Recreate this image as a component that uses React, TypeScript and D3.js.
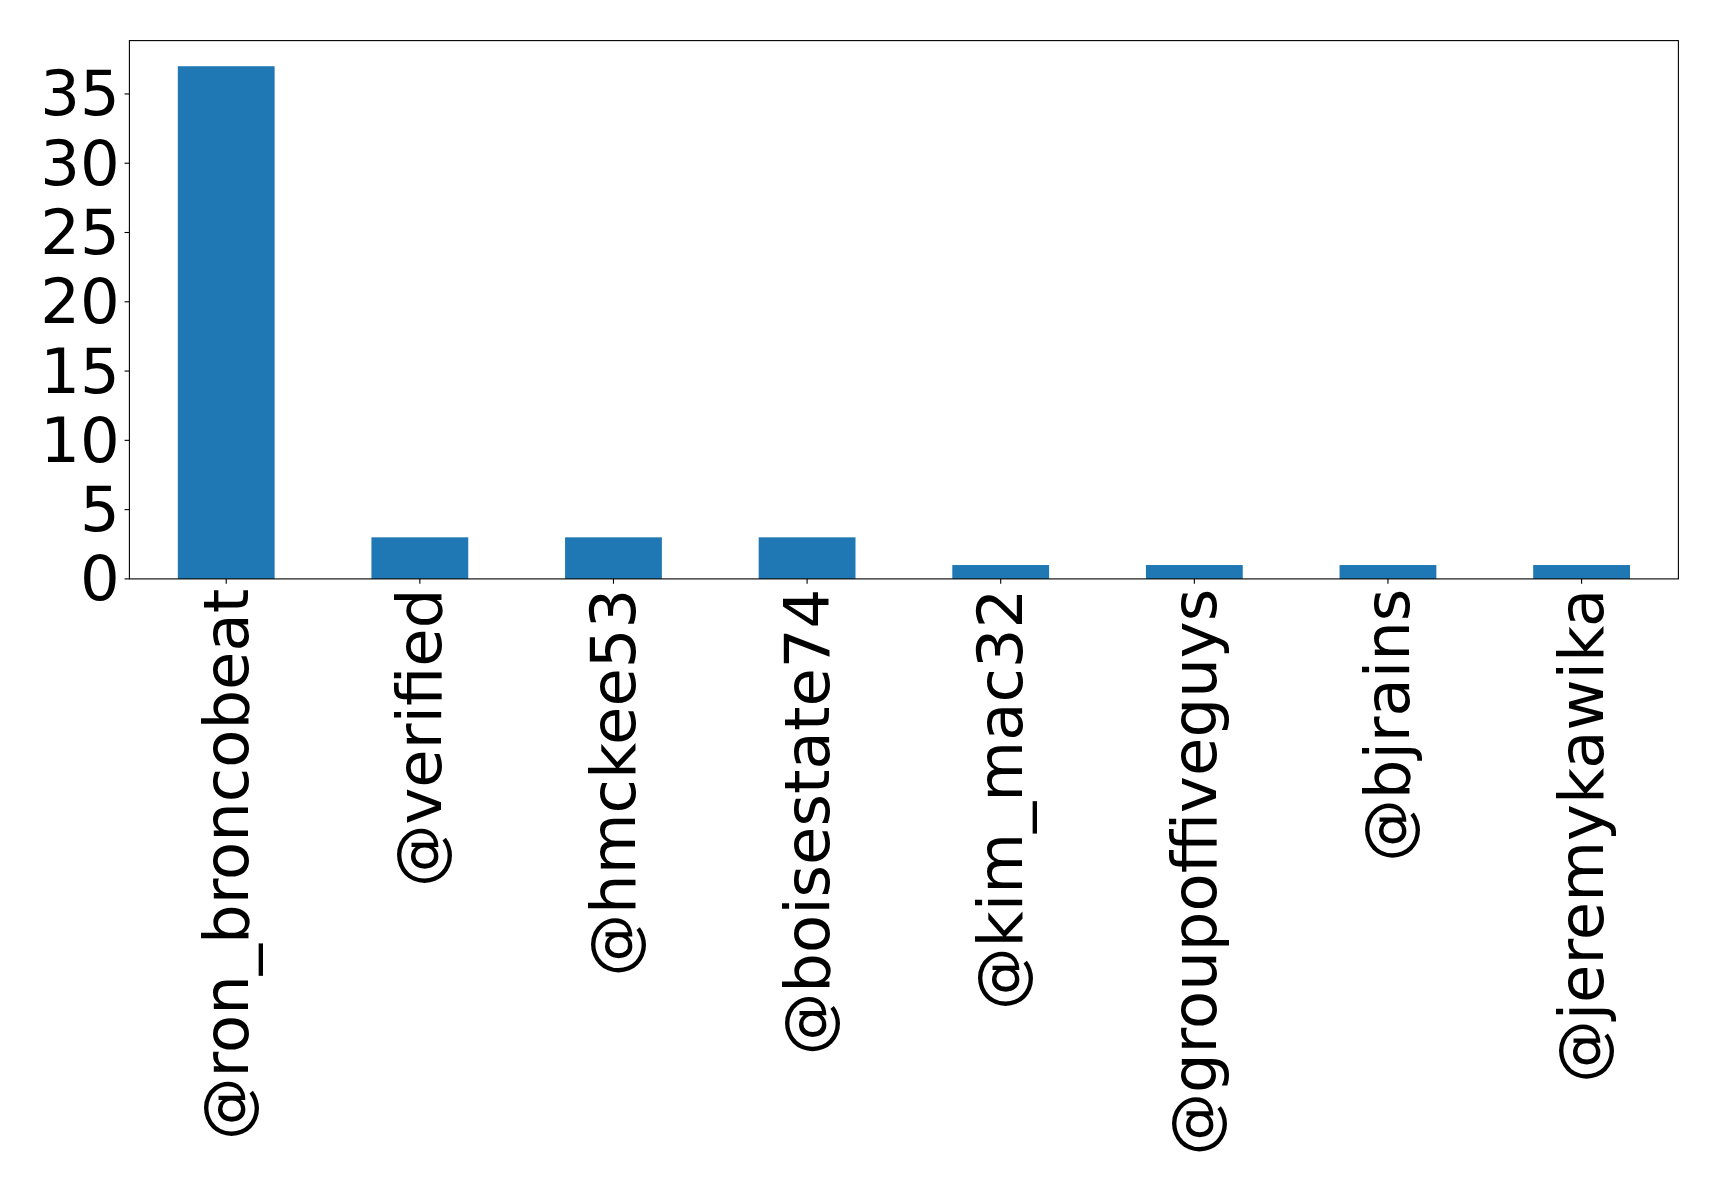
import React, { useEffect, useRef } from 'react';
import * as d3 from 'd3';

const handles = ['@ron_broncobeat', '@verified', '@hmckee53', '@boisestate74', '@kim_mac32', '@groupoffiveguys', '@bjrains', '@jeremykawika'];
const counts = [37, 3, 3, 3, 1, 1, 1, 1];
const yTicks = [0, 5, 10, 15, 20, 25, 30, 35];

const W = 1719;
const H = 1196;

const App = () => {
    const svgRef = useRef<SVGSVGElement>(null);

    useEffect(() => {
        const svg = d3.select(svgRef.current);
        svg.selectAll("*").remove();

        const left = 129.4, right = 1678.4, top = 40.6, bottom = 578.9;
        const font = "DejaVu Sans, sans-serif";
        const fontSize = 62.5;
        const tickLen = 4.86, pad = 4.86;

        // pandas bar layout: xlim [-0.5, n-0.5], width 0.5
        const x = d3.scaleLinear().domain([-0.5, handles.length - 0.5]).range([left, right]);
        const y = d3.scaleLinear().domain([0, d3.max(counts)! * 1.05]).range([bottom, top]);

        svg.append("g")
            .selectAll("rect")
            .data(counts)
            .join("rect")
            .attr("x", (_, i) => x(i - 0.25))
            .attr("width", x(0.25) - x(-0.25))
            .attr("y", d => y(d))
            .attr("height", d => y(0) - y(d))
            .attr("fill", "#1f77b4");

        // frame
        svg.append("rect")
            .attr("x", left).attr("y", top)
            .attr("width", right - left).attr("height", bottom - top)
            .attr("fill", "none").attr("stroke", "#000").attr("stroke-width", 1.1);

        // y axis
        const yg = svg.append("g");
        yTicks.forEach(t => {
            yg.append("line")
                .attr("x1", left - tickLen).attr("x2", left)
                .attr("y1", y(t)).attr("y2", y(t))
                .attr("stroke", "#000").attr("stroke-width", 1.1);
            yg.append("text")
                .attr("x", left - tickLen - pad)
                .attr("y", y(t))
                .attr("text-anchor", "end")
                .attr("dominant-baseline", "central")
                .style("font-family", font)
                .style("font-size", `${fontSize}px`)
                .text(t);
        });

        // x axis
        const xg = svg.append("g");
        handles.forEach((h, i) => {
            xg.append("line")
                .attr("x1", x(i)).attr("x2", x(i))
                .attr("y1", bottom).attr("y2", bottom + tickLen)
                .attr("stroke", "#000").attr("stroke-width", 1.1);
            xg.append("text")
                .attr("transform", `translate(${x(i)},${bottom + tickLen + pad}) rotate(-90)`)
                .attr("text-anchor", "end")
                .attr("dominant-baseline", "central")
                .style("font-family", font)
                .style("font-size", `${fontSize}px`)
                .text(h);
        });
    }, []);

    return (
        <svg ref={svgRef} width={W} height={H}
            style={{ position: 'absolute', left: 0, top: 0, background: '#fff' }} />
    );
};

export default App;
